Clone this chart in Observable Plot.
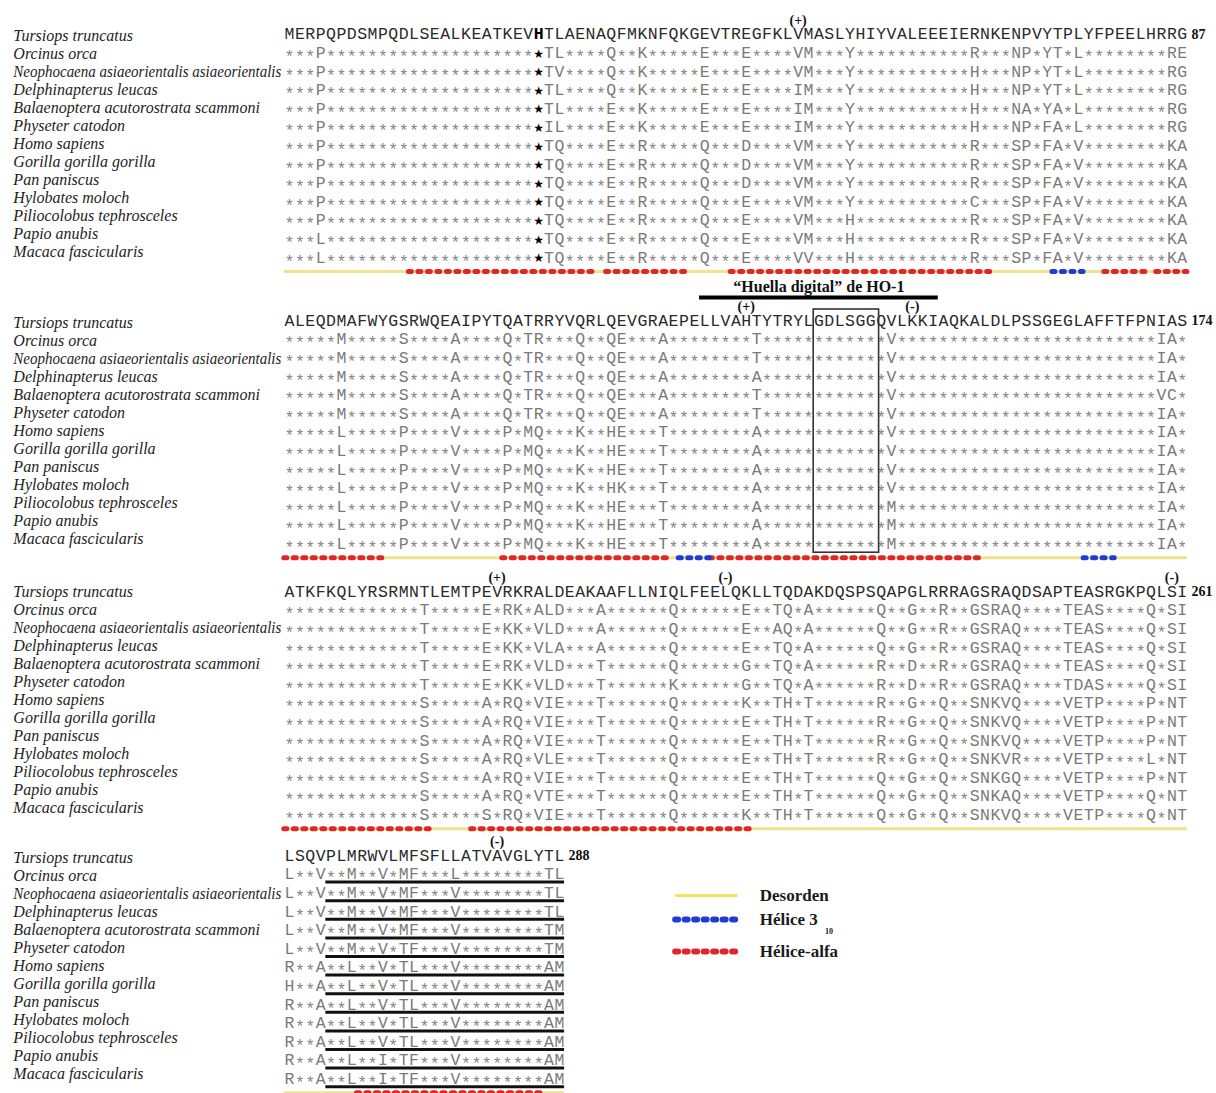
<!DOCTYPE html>
<html>
<head>
<meta charset="utf-8">
<script src="https://cdn.jsdelivr.net/npm/d3@7"></script>
<script src="https://cdn.jsdelivr.net/npm/@observablehq/plot@0.6"></script>
<style>
  html, body { margin: 0; padding: 0; background: #fff; }
  #chart svg { display: block; }
</style>
</head>
<body>
<div id="chart"></div>
<script>
// Species, in the order of the alignment rows (first row is the reference)
const species = [
  "Tursiops truncatus",
  "Orcinus orca",
  "Neophocaena asiaeorientalis asiaeorientalis",
  "Delphinapterus leucas",
  "Balaenoptera acutorostrata scammoni",
  "Physeter catodon",
  "Homo sapiens",
  "Gorilla gorilla gorilla",
  "Pan paniscus",
  "Hylobates moloch",
  "Piliocolobus tephrosceles",
  "Papio anubis",
  "Macaca fascicularis"
];

// Reference sequence, split in the four printed blocks
const referenceBlocks = [
  "MERPQPDSMPQDLSEALKEATKEVHTLAENAQFMKNFQKGEVTREGFKLVMASLYHIYVALEEEIERNKENPVYTPLYFPEELHRRG",
  "ALEQDMAFWYGSRWQEAIPYTQATRRYVQRLQEVGRAEPELLVAHTYTRYLGDLSGGQVLKKIAQKALDLPSSGEGLAFFTFPNIAS",
  "ATKFKQLYRSRMNTLEMTPEVRKRALDEAKAAFLLNIQLFEELQKLLTQDAKDQSPSQAPGLRRRAGSRAQDSAPTEASRGKPQLSI",
  "LSQVPLMRWVLMFSFLLATVAVGLYTL"
];

// Residue number printed at the end of each block
const blockEnds = [87, 174, 261, 288];

// Aligned rows of the other species ("*" = same residue, "★" = conserved histidine)
const variants1 = [
  "***P********************★TL****Q**K*****E***E****VM***Y***********R***NP*YT*L********RE",
  "***P********************★TV****Q**K*****E***E****VM***Y***********H***NP*YT*L********RG",
  "***P********************★TL****Q**K*****E***E****IM***Y***********H***NP*YT*L********RG",
  "***P********************★TL****E**K*****E***E****IM***Y***********H***NA*YA*L********RG",
  "***P********************★IL****E**K*****E***E****IM***Y***********H***NP*FA*L********RG",
  "***P********************★TQ****E**R*****Q***D****VM***Y***********R***SP*FA*V********KA",
  "***P********************★TQ****E**R*****Q***D****VM***Y***********R***SP*FA*V********KA",
  "***P********************★TQ****E**R*****Q***D****VM***Y***********R***SP*FA*V********KA",
  "***P********************★TQ****E**R*****Q***E****VM***Y***********C***SP*FA*V********KA",
  "***P********************★TQ****E**R*****Q***E****VM***H***********R***SP*FA*V********KA",
  "***L********************★TQ****E**R*****Q***E****VM***H***********R***SP*FA*V********KA",
  "***L********************★TQ****E**R*****Q***E****VV***H***********R***SP*FA*V********KA"
];

const variants2 = [
  "*****M*****S****A****Q*TR***Q**QE***A********T************V*************************IA*",
  "*****M*****S****A****Q*TR***Q**QE***A********T************V*************************IA*",
  "*****M*****S****A****Q*TR***Q**QE***A********A************V*************************IA*",
  "*****M*****S****A****Q*TR***Q**QE***A********T************V*************************VC*",
  "*****M*****S****A****Q*TR***Q**QE***A********T************V*************************IA*",
  "*****L*****P****V****P*MQ***K**HE***T********A************V*************************IA*",
  "*****L*****P****V****P*MQ***K**HE***T********A************V*************************IA*",
  "*****L*****P****V****P*MQ***K**HE***T********A************V*************************IA*",
  "*****L*****P****V****P*MQ***K**HK***T********A************V*************************IA*",
  "*****L*****P****V****P*MQ***K**HE***T********A************M*************************IA*",
  "*****L*****P****V****P*MQ***K**HE***T********A************M*************************IA*",
  "*****L*****P****V****P*MQ***K**HE***T********A************M*************************IA*"
];

const variants3 = [
  "*************T*****E*RK*ALD***A******Q*****" + "*E**TQ*A******Q**G**R**GSRAQ****TEAS****Q*SI",
  "*************T*****E*KK*VLD***A******Q*****" + "*E**AQ*A******Q**G**R**GSRAQ****TEAS****Q*SI",
  "*************T*****E*KK*VLA***A******Q*****" + "*E**TQ*A******Q**G**R**GSRAQ****TEAS****Q*SI",
  "*************T*****E*RK*VLD***T******Q*****" + "*G**TQ*A******R**D**R**GSRAQ****TEAS****Q*SI",
  "*************T*****E*KK*VLD***T******K*****" + "*G**TQ*A******R**D**R**GSRAQ****TDAS****Q*SI",
  "*************S*****A*RQ*VIE***T******Q*****" + "*K**TH*T******R**G**Q**SNKVQ****VETP****P*NT",
  "*************S*****A*RQ*VIE***T******Q*****" + "*E**TH*T******R**G**Q**SNKVQ****VETP****P*NT",
  "*************S*****A*RQ*VIE***T******Q*****" + "*E**TH*T******R**G**Q**SNKVQ****VETP****P*NT",
  "*************S*****A*RQ*VLE***T******Q*****" + "*E**TH*T******R**G**Q**SNKVR****VETP****L*NT",
  "*************S*****A*RQ*VIE***T******Q*****" + "*E**TH*T******Q**G**Q**SNKGQ****VETP****P*NT",
  "*************S*****A*RQ*VTE***T******Q*****" + "*E**TH*T******Q**G**Q**SNKAQ****VETP****Q*NT",
  "*************S*****S*RQ*VIE***T******Q*****" + "*K**TH*T******Q**G**Q**SNKVQ****VETP****Q*NT"
];

const variants4 = [
  "L**V**M**V*MF***L********TL",
  "L**V**M**V*MF***V********TL",
  "L**V**M**V*MF***V********TL",
  "L**V**M**V*MF***V********TM",
  "L**V**M**V*TF***V********TM",
  "R**A**L**V*TL***V********AM",
  "H**A**L**V*TL***V********AM",
  "R**A**L**V*TL***V********AM",
  "R**A**L**V*TL***V********AM",
  "R**A**L**V*TL***V********AM",
  "R**A**L**I*TF***V********AM",
  "R**A**L**I*TF***V********AM"
];

// Secondary structure (residue ranges, whole-protein numbering)
const alphaHelices = [[13, 30], [32, 39], [44, 68], [80, 83], [85, 87],
                      [88, 97], [109, 124], [129, 154],
                      [175, 188], [193, 219], [269, 286]];
const helices310 = [[75, 77], [126, 128], [165, 167]];

// Charged residues flagged above the reference
const chargeSites = [
  {residue: 50, sign: "(+)"}, {residue: 132, sign: "(+)"}, {residue: 148, sign: "(-)"},
  {residue: 195, sign: "(+)"}, {residue: 217, sign: "(-)"}, {residue: 260, sign: "(-)"},
  {residue: 282, sign: "(-)"}
];

// HO-1 fingerprint, boxed motif, conserved histidine and underlined C-terminal stretch
const fingerprint = [128, 150];
const fingerprintLabel = "\u201CHuella digital\u201D de HO-1";
const boxedMotif = [139, 144];
const conservedHis = 25;
const underlinedStretch = [266, 288];

// Legend entries
const legendLabels = ["Desorden", "Hélice 3", "Hélice-alfa"];

// ---------- layout ----------
const seqTop = [33.7, 320, 591, 855];   // y of the reference row of each block
const seqStep = 18.6;
const nameTop = [35, 322, 591, 857];
const nameStep = 18.0;
const nameColumn = -25.6;               // x (in residue columns) where the names start
const nameMaxWidth = 268;               // names wider than this are condensed to fit
const barOffset = 14;
const seqFont = "'Liberation Mono', 'Courier New', monospace";
const serif = "'Liberation Serif', 'Times New Roman', serif";

const variantBlocks = [variants1, variants2, variants3, variants4];
const blockStarts = [0, ...blockEnds.slice(0, -1)];
const toBlock = (res) => blockEnds.findIndex(e => res <= e);
const toPos = (res) => res - blockStarts[toBlock(res)];
const rowY = (b, r) => seqTop[b] + r * seqStep;
const barY = (b) => rowY(b, 12) + barOffset;

// One record per printed character
const chars = [];
referenceBlocks.forEach((ref, b) => {
  [ref, ...variantBlocks[b]].forEach((seq, r) => {
    const cs = Array.from(seq);
    if (cs.length !== ref.length) throw new Error(`block ${b + 1}, row ${r}: ${cs.length} != ${ref.length}`);
    cs.forEach((ch, i) => chars.push({block: b, row: r, pos: i + 1, ch}));
  });
});

const nameRows = [];
referenceBlocks.forEach((_, b) => species.forEach((name, r) => nameRows.push({block: b, row: r, name})));

const blocks = referenceBlocks.map((s, b) => ({block: b, length: s.length, end: blockEnds[b]}));

// split a residue range at block borders
const segs = (ranges) => ranges.flatMap(([a, z]) => {
  const out = [];
  let s = a;
  while (s <= z) {
    const b = toBlock(s);
    const e = Math.min(z, blockEnds[b]);
    out.push({block: b, from: toPos(s), to: toPos(e)});
    s = e + 1;
  }
  return out;
});
const alphaSegs = segs(alphaHelices);
const h310Segs = segs(helices310);

const fp = {block: toBlock(fingerprint[0]), from: toPos(fingerprint[0]), to: toPos(fingerprint[1])};
const box = {block: toBlock(boxedMotif[0]), from: toPos(boxedMotif[0]), to: toPos(boxedMotif[1])};
const ul = {block: toBlock(underlinedStretch[0]), from: toPos(underlinedStretch[0]), to: toPos(underlinedStretch[1])};
const underlineRows = d3.range(1, 13).map(r => ({...ul, row: r}));
const charges = chargeSites.map(d => ({...d, block: toBlock(d.residue), pos: toPos(d.residue)}));

const legend = legendLabels.map((label, i) => ({label, i}));
const legendY = [895, 919, 951];
const legendX = {from: 38.2, to: 44.2, text: 46.3};

const RED = "#e0262b", BLUE = "#1f3bd6", YELLOW = "#f0e48a";
const helixStyle = {strokeWidth: 5, strokeDasharray: "3,6.5", strokeLinecap: "round"};

const chart = Plot.plot({
  width: 1216,
  height: 1093,
  margin: 0,
  x: {domain: [0.5, 87.5], range: [283.8, 1186.9], axis: null},
  y: {type: "identity"},
  style: {background: "#fff"},
  marks: [
    // disorder baseline of each block
    Plot.ruleY(blocks, {x1: () => 0.5, x2: d => d.length + 0.5, y: d => barY(d.block), stroke: YELLOW, strokeWidth: 3}),
    // helices
    Plot.ruleY(alphaSegs, {x1: d => d.from - 0.5, x2: d => d.to + 0.5, y: d => barY(d.block), stroke: RED, ...helixStyle}),
    Plot.ruleY(h310Segs, {x1: d => d.from - 0.5, x2: d => d.to + 0.5, y: d => barY(d.block), stroke: BLUE, ...helixStyle}),

    // species names
    Plot.text(nameRows, {x: () => nameColumn, y: d => nameTop[d.block] + d.row * nameStep, text: "name",
      fontSize: 16, textAnchor: "start", fontFamily: serif, fontStyle: "italic", fill: "#1d1d1d"}),

    // reference row
    Plot.text(chars.filter(d => d.row === 0 && !(d.block === 0 && d.pos === conservedHis)), {
      x: "pos", y: d => rowY(d.block, 0), text: "ch", fontFamily: seqFont, fontSize: 16.5, fill: "#2a2a2a"}),
    Plot.text(chars.filter(d => d.row === 0 && d.block === 0 && d.pos === conservedHis), {
      x: "pos", y: d => rowY(d.block, 0), text: "ch", fontFamily: seqFont, fontSize: 16.5, fontWeight: "bold", fill: "#000"}),
    // substituted residues
    Plot.text(chars.filter(d => d.row > 0 && d.ch !== "*" && d.ch !== "★"), {
      x: "pos", y: d => rowY(d.block, d.row), text: "ch", fontFamily: seqFont, fontSize: 16.5, fill: "#7a7a7a"}),
    // identical residues
    Plot.text(chars.filter(d => d.row > 0 && d.ch === "*"), {
      x: "pos", y: d => rowY(d.block, d.row), dy: 4, text: "ch", fontFamily: seqFont, fontSize: 16.5, fill: "#858585"}),
    // conserved histidine
    Plot.text(chars.filter(d => d.ch === "★"), {
      x: "pos", y: d => rowY(d.block, d.row), dy: 1, text: "ch", fontFamily: "'DejaVu Sans', sans-serif", fontSize: 12, fill: "#000"}),

    // block end numbers
    Plot.text(blocks, {x: d => d.length + 0.5, y: d => rowY(d.block, 0), dx: 4, text: d => String(d.end),
      textAnchor: "start", fontFamily: serif, fontWeight: "bold", fontSize: 14, fill: "#111"}),

    // charge flags
    Plot.text(charges, {x: "pos", y: d => rowY(d.block, 0) - 14, text: "sign",
      fontFamily: serif, fontWeight: "bold", fontSize: 14, fill: "#111"}),

    // HO-1 fingerprint
    Plot.ruleY([fp], {x1: d => d.from - 0.5, x2: d => d.to + 0.5, y: d => rowY(d.block, 0) - 23, stroke: "#000", strokeWidth: 4}),
    Plot.text([fp], {x: d => (d.from + d.to) / 2, y: d => rowY(d.block, 0) - 34, text: () => fingerprintLabel,
      fontFamily: serif, fontWeight: "bold", fontSize: 16, fill: "#111"}),
    Plot.rect([box], {x1: d => d.from - 0.5, x2: d => d.to + 0.8, y1: d => rowY(d.block, 0) - 11, y2: d => rowY(d.block, 12) + 9,
      fill: "none", stroke: "#333", strokeWidth: 1.6}),

    // underlined C-terminal stretch
    Plot.ruleY(underlineRows, {x1: d => d.from - 0.5, x2: d => d.to + 0.5, y: d => rowY(d.block, d.row) + 8, stroke: "#111", strokeWidth: 3}),

    // legend
    Plot.ruleY(legend.filter(d => d.i === 0), {x1: () => legendX.from, x2: () => legendX.to, y: d => legendY[d.i], stroke: "#f2e35a", strokeWidth: 3}),
    Plot.ruleY(legend.filter(d => d.i === 1), {x1: () => legendX.from, x2: () => legendX.to, y: d => legendY[d.i], stroke: BLUE, ...helixStyle, strokeWidth: 6}),
    Plot.ruleY(legend.filter(d => d.i === 2), {x1: () => legendX.from, x2: () => legendX.to, y: d => legendY[d.i], stroke: RED, ...helixStyle, strokeWidth: 6}),
    Plot.text(legend, {x: () => legendX.text, y: d => legendY[d.i], text: "label", textAnchor: "start",
      fontFamily: serif, fontWeight: "bold", fontSize: 17, fill: "#1a1a1a"}),
    Plot.text(legend.filter(d => d.i === 1), {x: () => legendX.text + 6.3, y: d => legendY[d.i] + 12, text: () => "10", textAnchor: "start",
      fontFamily: serif, fontWeight: "bold", fontSize: 8, fill: "#1a1a1a"})
  ]
});

document.getElementById("chart").appendChild(chart);

// condense species names that would run into the alignment
const longNames = new Set(species);
chart.querySelectorAll("text").forEach(t => {
  if (longNames.has(t.textContent) && t.getComputedTextLength() > nameMaxWidth) {
    t.setAttribute("textLength", nameMaxWidth);
    t.setAttribute("lengthAdjust", "spacingAndGlyphs");
  }
});
</script>
</body>
</html>
